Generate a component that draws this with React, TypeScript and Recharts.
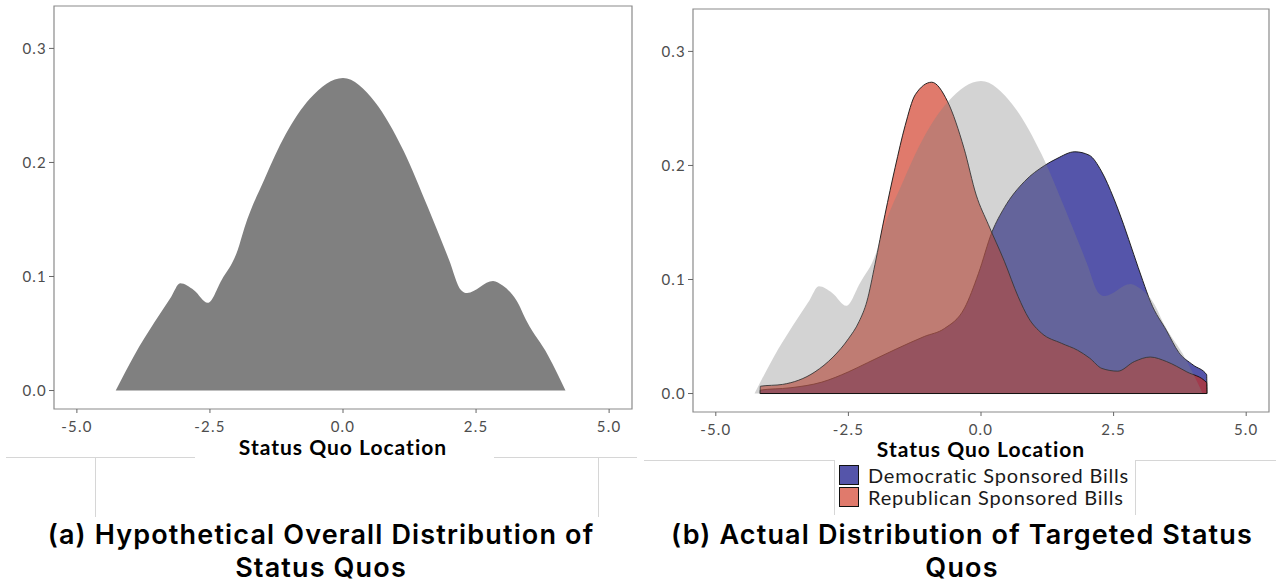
import React from 'react';
import { ComposedChart, Area, XAxis, YAxis, ReferenceArea, ReferenceLine } from 'recharts';

// Overall (hypothetical) density of status quo locations
const overallLoc = [-4.27, -3.92, -3.54, -3.23, -3.06, -2.8, -2.54, -2.28, -1.98, -1.85, -1.47, -1.085, -0.62, 0, 0.6, 1.14, 1.6, 1.99, 2.22, 2.33, 2.82, 3.0, 3.26, 3.46, 3.85, 4.18];
const overallDensity = [0, 0.031, 0.06, 0.082, 0.094, 0.088, 0.077, 0.097, 0.123, 0.143, 0.186, 0.224, 0.256, 0.274, 0.253, 0.21, 0.16, 0.115, 0.088, 0.0855, 0.096, 0.092, 0.079, 0.06, 0.031, 0];

// Status quos targeted by Democratic sponsored bills
const demLoc = [-4.165, -4.16, -3.6, -3.0, -2.5, -2.14, -1.6, -1.07, -0.69, -0.31, -0.05, 0.21, 0.44, 0.82, 1.2, 1.43, 1.77, 2.04, 2.27, 2.5, 2.69, 2.88, 3.05, 3.2, 3.5, 3.73, 4.0, 4.255, 4.26];
const demDensity = [0, 0.003, 0.005, 0.01, 0.019, 0.027, 0.039, 0.05, 0.057, 0.075, 0.105, 0.142, 0.163, 0.186, 0.2, 0.206, 0.212, 0.209, 0.195, 0.1715, 0.148, 0.122, 0.099, 0.08, 0.055, 0.036, 0.025, 0.0165, 0];

// Status quos targeted by Republican sponsored bills
const repLoc = [-4.165, -4.16, -3.74, -3.13, -2.79, -2.5, -2.3, -2.15, -2.0, -1.81, -1.62, -1.43, -1.24, -0.93, -0.63, -0.32, -0.09, 0.14, 0.44, 0.7, 0.9, 1.14, 1.52, 1.82, 2.05, 2.28, 2.58, 2.89, 3.19, 3.5, 3.88, 4.255, 4.26];
const repDensity = [0, 0.0064, 0.008, 0.019, 0.032, 0.048, 0.063, 0.081, 0.113, 0.157, 0.198, 0.235, 0.262, 0.273, 0.256, 0.215, 0.174, 0.148, 0.116, 0.085, 0.066, 0.053, 0.044, 0.038, 0.031, 0.022, 0.0196, 0.028, 0.032, 0.028, 0.019, 0.0095, 0];

const xTicks = [-5, -2.5, 0, 2.5, 5];
const yTicks = [0, 0.1, 0.2, 0.3];
const xDomain: [number, number] = [-5.43, 5.43];
const yDomain: [number, number] = [-0.0162, 0.3372];

const legendItems = [
  { name: 'Democratic Sponsored Bills', fill: '#5555aa', opacity: 1 },
  { name: 'Republican Sponsored Bills', fill: '#ce2d16', opacity: 0.63 },
];

const toPoints = (loc: number[], dens: number[]) => loc.map((x, i) => ({ loc: x, density: dens[i] }));

const overallData = toPoints(overallLoc, overallDensity);
const demData = toPoints(demLoc, demDensity);
const repData = toPoints(repLoc, repDensity);

const bodyFont = 'Lato, "DejaVu Sans", sans-serif';
const tickStyle = { fill: '#4d4d4d', fontSize: 15, fontFamily: bodyFont, letterSpacing: 1.2 };
const fmt = (v: number) => v.toFixed(1);

// shared axes + panel border for both density panels
const renderAxes = (labelOffset: number, yWidth: number) => [
  <XAxis
    key="x"
    type="number"
    dataKey="loc"
    domain={xDomain}
    ticks={xTicks}
    interval={0}
    allowDataOverflow
    tickFormatter={fmt}
    tick={tickStyle}
    axisLine={false}
    tickLine={{ stroke: '#666' }}
    tickSize={4}
    tickMargin={8}
    height={50}
    label={{
      value: 'Status Quo Location',
      position: 'insideBottom',
      offset: labelOffset,
      fill: '#000',
      fontSize: 21,
      fontWeight: 700,
      fontFamily: bodyFont,
      letterSpacing: 1,
    }}
  />,
  <YAxis
    key="y"
    type="number"
    domain={yDomain}
    ticks={yTicks}
    interval={0}
    allowDataOverflow
    tickFormatter={fmt}
    tick={tickStyle}
    axisLine={false}
    tickLine={{ stroke: '#666' }}
    tickSize={5}
    tickMargin={2}
    width={yWidth}
  />,
  <ReferenceArea
    key="frame"
    x1={xDomain[0]}
    x2={xDomain[1]}
    y1={yDomain[0]}
    y2={yDomain[1]}
    fill="none"
    fillOpacity={0}
    stroke="#8a8a8a"
    strokeWidth={1.2}
  />,
];

const line = (left: number, top: number, width: number, height: number) => (
  <div style={{ position: 'absolute', left, top, width, height, background: '#d6d6d6' }} />
);

const captionStyle: React.CSSProperties = {
  position: 'absolute',
  top: 518,
  textAlign: 'center',
  fontFamily: 'Inter, "Open Sans", sans-serif',
  fontWeight: 600,
  fontSize: 27,
  letterSpacing: 1.15,
  lineHeight: '33px',
  color: '#000',
};

export default function App() {
  return (
    <div style={{ position: 'absolute', left: 0, top: 0, width: 1276, height: 585, background: '#fff', overflow: 'hidden' }}>
      {/* (a) overall distribution */}
      <div style={{ position: 'absolute', left: 0, top: 0 }}>
        <ComposedChart width={640} height={459} margin={{ top: 6, right: 8, bottom: 0, left: 0 }}>
          {renderAxes(4, 54)}
          <Area
            data={overallData}
            type="monotone"
            dataKey="density"
            baseValue={0}
            fill="#808080"
            fillOpacity={1}
            stroke="none"
            dot={false}
            activeDot={false}
            legendType="none"
            isAnimationActive={false}
          />
        </ComposedChart>
      </div>

      {/* (b) targeted status quos by sponsoring party */}
      <div style={{ position: 'absolute', left: 640, top: 0 }}>
        <ComposedChart width={636} height={462} margin={{ top: 9, right: 7, bottom: 0, left: 0 }}>
          {renderAxes(5, 53)}
          <Area
            data={demData}
            type="monotone"
            dataKey="density"
            name={legendItems[0].name}
            baseValue={0}
            fill={legendItems[0].fill}
            fillOpacity={legendItems[0].opacity}
            stroke="#111"
            strokeWidth={0.9}
            dot={false}
            activeDot={false}
            isAnimationActive={false}
          />
          <Area
            data={repData}
            type="monotone"
            dataKey="density"
            name={legendItems[1].name}
            baseValue={0}
            fill={legendItems[1].fill}
            fillOpacity={legendItems[1].opacity}
            stroke="#111"
            strokeWidth={0.9}
            dot={false}
            activeDot={false}
            isAnimationActive={false}
          />
          <ReferenceLine
            segment={[
              { x: demLoc[0], y: 0 },
              { x: demLoc[demLoc.length - 1], y: 0 },
            ]}
            stroke="#111"
            strokeWidth={1}
          />
          <Area
            data={overallData}
            type="monotone"
            dataKey="density"
            baseValue={0}
            fill="#808080"
            fillOpacity={0.35}
            stroke="none"
            dot={false}
            activeDot={false}
            legendType="none"
            isAnimationActive={false}
          />
        </ComposedChart>
      </div>

      {/* thin rule lines under the panels */}
      {line(6, 457, 189, 1)}
      {line(494, 457, 143, 1)}
      {line(95, 457, 1, 60)}
      {line(598, 457, 1, 60)}
      {line(644, 460, 190, 1)}
      {line(1135, 460, 141, 1)}
      {line(834, 460, 1, 55)}
      {line(1135, 460, 1, 55)}

      {/* legend */}
      <div style={{ position: 'absolute', left: 839, top: 465, fontFamily: bodyFont, fontSize: 20, letterSpacing: 0.8, color: '#1a1a1a' }}>
        {legendItems.map((item) => (
          <div key={item.name} style={{ position: 'relative', height: 21.5, lineHeight: '21.5px', whiteSpace: 'nowrap' }}>
            <span
              style={{
                position: 'absolute',
                left: 0,
                top: 0,
                width: 20,
                height: 20,
                boxSizing: 'border-box',
                border: '1.5px solid #111',
                background: '#fff',
              }}
            >
              <span style={{ position: 'absolute', inset: 0, background: item.fill, opacity: item.opacity }} />
            </span>
            <span style={{ position: 'absolute', left: 29, top: 0 }}>{item.name}</span>
          </div>
        ))}
      </div>

      {/* captions */}
      <div style={{ ...captionStyle, left: 0, width: 642 }}>
        (a) Hypothetical Overall Distribution of
        <br />
        Status Quos
      </div>
      <div style={{ ...captionStyle, left: 642, width: 640 }}>
        (b) Actual Distribution of Targeted Status
        <br />
        Quos
      </div>
    </div>
  );
}
